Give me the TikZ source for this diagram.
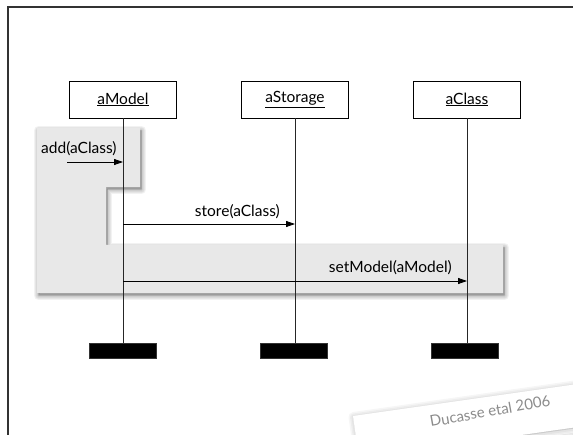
\documentclass[tikz,border=0pt]{standalone}
\usepackage{fontspec}
\setmainfont{Lato}
\usetikzlibrary{arrows.meta}
\begin{document}
\begin{tikzpicture}[x=1pt,y=-1pt,
  labelfont/.style={font=\fontsize{15.5}{18}\selectfont},
  objbox/.style={draw=black,line width=0.9pt,fill=white,minimum width=107pt,minimum height=37pt,inner sep=0pt,labelfont},
  endbar/.style={fill=black,draw=black!80,minimum width=67pt,minimum height=15pt,inner sep=0pt},
  lifeline/.style={draw=black!85,line width=0.8pt},
  msg/.style={draw=black,line width=0.8pt,-{Triangle[length=9pt,width=6pt]}},
  msglabel/.style={labelfont,inner sep=0pt},
  softshadow/.style={draw=black,line join=round,draw opacity=#1,fill=black,fill opacity=#1},
]
\useasboundingbox (0,0) rectangle (573,435);
\fill[white] (0,0) rectangle (573,435);

% outer frame (open at right and bottom)
\draw[black!80,line width=1.2pt] (8,436) -- (8,7) -- (574,7);

% grey interaction region with soft shadow
\def\regionpath{(37,128) -- (140,128) -- (140,187) -- (106,187) -- (106,245)
  -- (503,245) -- (503,293) -- (37,293) -- cycle}
\begin{scope}[shift={(1.5,2.5)}]
  \foreach \w in {9,7,5,3,1}
    \path[softshadow=0.05,line width=\w pt] \regionpath;
\end{scope}
\path[fill=black!9] \regionpath;

% objects
\node[objbox] (model) at (123,99.5) {\underline{aModel}};
\node[objbox] (storage) at (295,99.5) {\underline{aStorage}};
\node[objbox] (class) at (467,99.5) {\underline{aClass}};

% destruction bars
\node[endbar] (modelEnd) at (123,350.5) {};
\node[endbar] (storageEnd) at (294,350.5) {};
\node[endbar] (classEnd) at (465,350.5) {};

% lifelines
\draw[lifeline] (model.south) -- (model.south |- modelEnd.north);
\draw[lifeline] (storage.south) -- (storage.south |- storageEnd.north);
\draw[lifeline] (class.south) -- (class.south |- classEnd.north);

% messages
\coordinate (addStart) at (67,162);
\draw[msg] (addStart) -- (addStart -| model.south);
\node[msglabel,anchor=base west] (addLbl) at (41,154) {add(aClass)};

\coordinate (storeY) at (0,224);
\draw[msg] (model.south |- storeY) -- (storage.south |- storeY);
\node[msglabel,anchor=base east] (storeLbl) at (280,217) {store(aClass)};

\coordinate (setY) at (0,281);
\draw[msg] (model.south |- setY) -- (class.south |- setY);
\node[msglabel,anchor=base east] (setLbl) at (452,273) {setModel(aModel)};

% citation note: a slightly tilted slip of paper
\def\notepath{(353,416) -- (620,378) -- (627,420) -- (359,458) -- cycle}
\begin{scope}[shift={(0.5,1)}]
  \foreach \w in {10,7,4}
    \path[softshadow=0.035,line width=\w pt] \notepath;
\end{scope}
\begin{scope}[shift={(2,5)}]
  \foreach \w in {6,3}
    \path[softshadow=0.06,line width=\w pt] (450,448) -- (627,423) -- (627,440) -- (452,460) -- cycle;
\end{scope}
\path[fill=white] \notepath;
\node[rotate=10,text=black!45,font=\fontsize{15}{18}\selectfont] (cite) at (490,411) {Ducasse etal 2006};
\end{tikzpicture}
\end{document}
